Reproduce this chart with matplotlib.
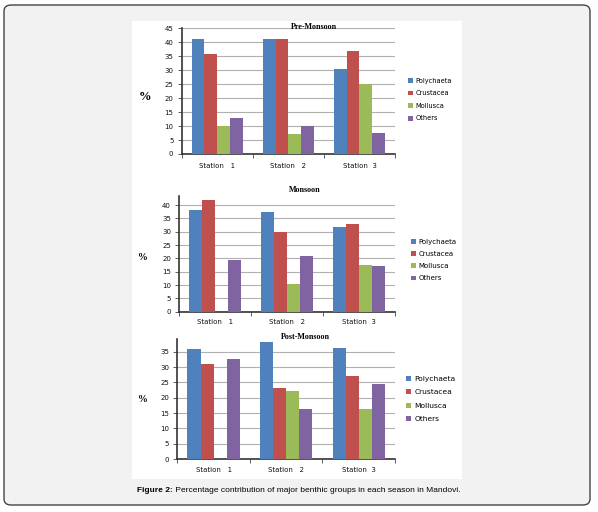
import matplotlib
matplotlib.use("Agg")
import matplotlib.pyplot as plt
import numpy as np
from matplotlib.patches import FancyBboxPatch, Rectangle

stations = ["Station   1", "Station   2", "Station  3"]
groups = ["Polychaeta", "Crustacea", "Mollusca", "Others"]
colors = ["#4F81BD", "#C0504D", "#9BBB59", "#8064A2"]

pre_polychaeta = [41.0, 41.0, 30.5]
pre_crustacea = [35.7, 41.3, 36.8]
pre_mollusca = [10.0, 7.2, 25.0]
pre_others = [13.0, 10.0, 7.4]

mon_polychaeta = [38.0, 37.5, 31.7]
mon_crustacea = [42.0, 30.0, 33.0]
mon_mollusca = [0.0, 10.3, 17.5]
mon_others = [19.5, 21.0, 17.3]

post_polychaeta = [35.8, 38.0, 36.3]
post_crustacea = [31.0, 23.0, 27.0]
post_mollusca = [0.0, 22.2, 16.2]
post_others = [32.5, 16.2, 24.4]

W, H = 598, 512
fig = plt.figure(figsize=(W / 100, H / 100), dpi=100)
fig.patch.set_facecolor("white")

def fx(px):
    return px / W

def fy(py):
    return 1 - py / H

# outer rounded frame
frame = FancyBboxPatch((fx(4), fy(505)), fx(586), (505 - 5) / H,
                       boxstyle="round,pad=0,rounding_size=0.012",
                       transform=fig.transFigure, facecolor="#f2f2f2",
                       edgecolor="#444444", linewidth=1.0, zorder=-2)
fig.patches.append(frame)
white = Rectangle((fx(132), fy(479)), fx(462 - 132), (479 - 21) / H,
                  transform=fig.transFigure, facecolor="white",
                  edgecolor="none", zorder=-1)
fig.patches.append(white)

panels = [
    dict(data=[pre_polychaeta, pre_crustacea, pre_mollusca, pre_others],
         title="Pre-Monsoon", rect=(181.7, 28.3, 395, 154), ylim=45,
         ticks=np.arange(0, 46, 5), title_xy=(314, 27), leg_xy=(408, 99.5),
         leg_fs=4.8, leg_sp=1.0, pct_xy=(145, 97), pct_fs=9, lab_pad=6.5),
    dict(data=[mon_polychaeta, mon_crustacea, mon_mollusca, mon_others],
         title="Monsoon", rect=(179.3, 195.7, 395, 311.7), ylim=43.5,
         ticks=np.arange(0, 41, 5), title_xy=(305, 190.5), leg_xy=(411, 260),
         leg_fs=5.0, leg_sp=0.9, pct_xy=(143, 258), pct_fs=7, lab_pad=5.5),
    dict(data=[post_polychaeta, post_crustacea, post_mollusca, post_others],
         title="Post-Monsoon", rect=(177.3, 339.4, 395, 459), ylim=39,
         ticks=np.arange(0, 36, 5), title_xy=(305, 337), leg_xy=(406, 399),
         leg_fs=5.4, leg_sp=0.95, pct_xy=(143, 400), pct_fs=7, lab_pad=6.0),
]

x = np.arange(len(stations))
bw = 0.18
for p in panels:
    l, t, r, b = p["rect"]
    ax = fig.add_axes([fx(l), fy(b), fx(r - l), (b - t) / H])
    ax.set_facecolor("none")
    handles = []
    for i, (vals, c, g) in enumerate(zip(p["data"], colors, groups)):
        h = ax.bar(x + (i - 1.5) * bw, vals, width=bw, color=c, label=g,
                   zorder=3, linewidth=0)
        handles.append(h)
    ax.set_xlim(-0.5, 2.5)
    ax.set_ylim(0, p["ylim"])
    ax.set_yticks(p["ticks"])
    ax.set_yticklabels([str(v) for v in p["ticks"]], fontsize=5,
                       color="#111111")
    ax.set_xticks(x)
    ax.set_xticklabels(stations, fontsize=5, color="#111111")
    ax.set_xticks([-0.5, 0.5, 1.5, 2.5], minor=True)
    ax.tick_params(axis="x", which="major", length=0, pad=p["lab_pad"])
    ax.tick_params(axis="x", which="minor", length=3, width=0.6,
                   color="#444444", direction="out")
    ax.tick_params(axis="y", length=3, width=0.6, color="#444444",
                   direction="out", pad=3)
    ax.grid(axis="y", color="#b0b0b0", linewidth=0.8, zorder=0)
    for s in ["top", "right"]:
        ax.spines[s].set_visible(False)
    for s in ["left", "bottom"]:
        ax.spines[s].set_color("#333333")
        ax.spines[s].set_linewidth(1.2)
    fig.text(fx(p["title_xy"][0]), fy(p["title_xy"][1]), p["title"],
             family="Liberation Serif", fontweight="bold", fontsize=5.8,
             ha="center", va="center")
    fig.text(fx(p["pct_xy"][0]), fy(p["pct_xy"][1]), "%",
             family="Liberation Serif", fontweight="bold",
             fontsize=p["pct_fs"], ha="center", va="center")
    fig.legend(handles=handles, labels=groups, loc="center left",
               bbox_to_anchor=(fx(p["leg_xy"][0]), fy(p["leg_xy"][1])),
               frameon=False, fontsize=p["leg_fs"], handlelength=0.7,
               handleheight=0.7, handletextpad=0.4, borderpad=0,
               borderaxespad=0, labelspacing=p["leg_sp"])

# caption with bold prefix
fig.canvas.draw()
renderer = fig.canvas.get_renderer()
t1 = fig.text(0, 0, "Figure 2:", family="Liberation Sans", fontweight="bold",
              fontsize=6.0)
t2 = fig.text(0, 0, " Percentage contribution of major benthic groups in each season in Mandovi.",
              family="Liberation Sans", fontsize=6.0)
w1 = t1.get_window_extent(renderer).width
w2 = t2.get_window_extent(renderer).width
total = w1 + w2
x0 = (W / 2 - total / 2)
ycap = fy(490)
t1.set_position((x0 / W, ycap))
t1.set_va("center")
t2.set_position(((x0 + w1) / W, ycap))
t2.set_va("center")

fig.savefig("out.png", dpi=100, facecolor=fig.get_facecolor())
